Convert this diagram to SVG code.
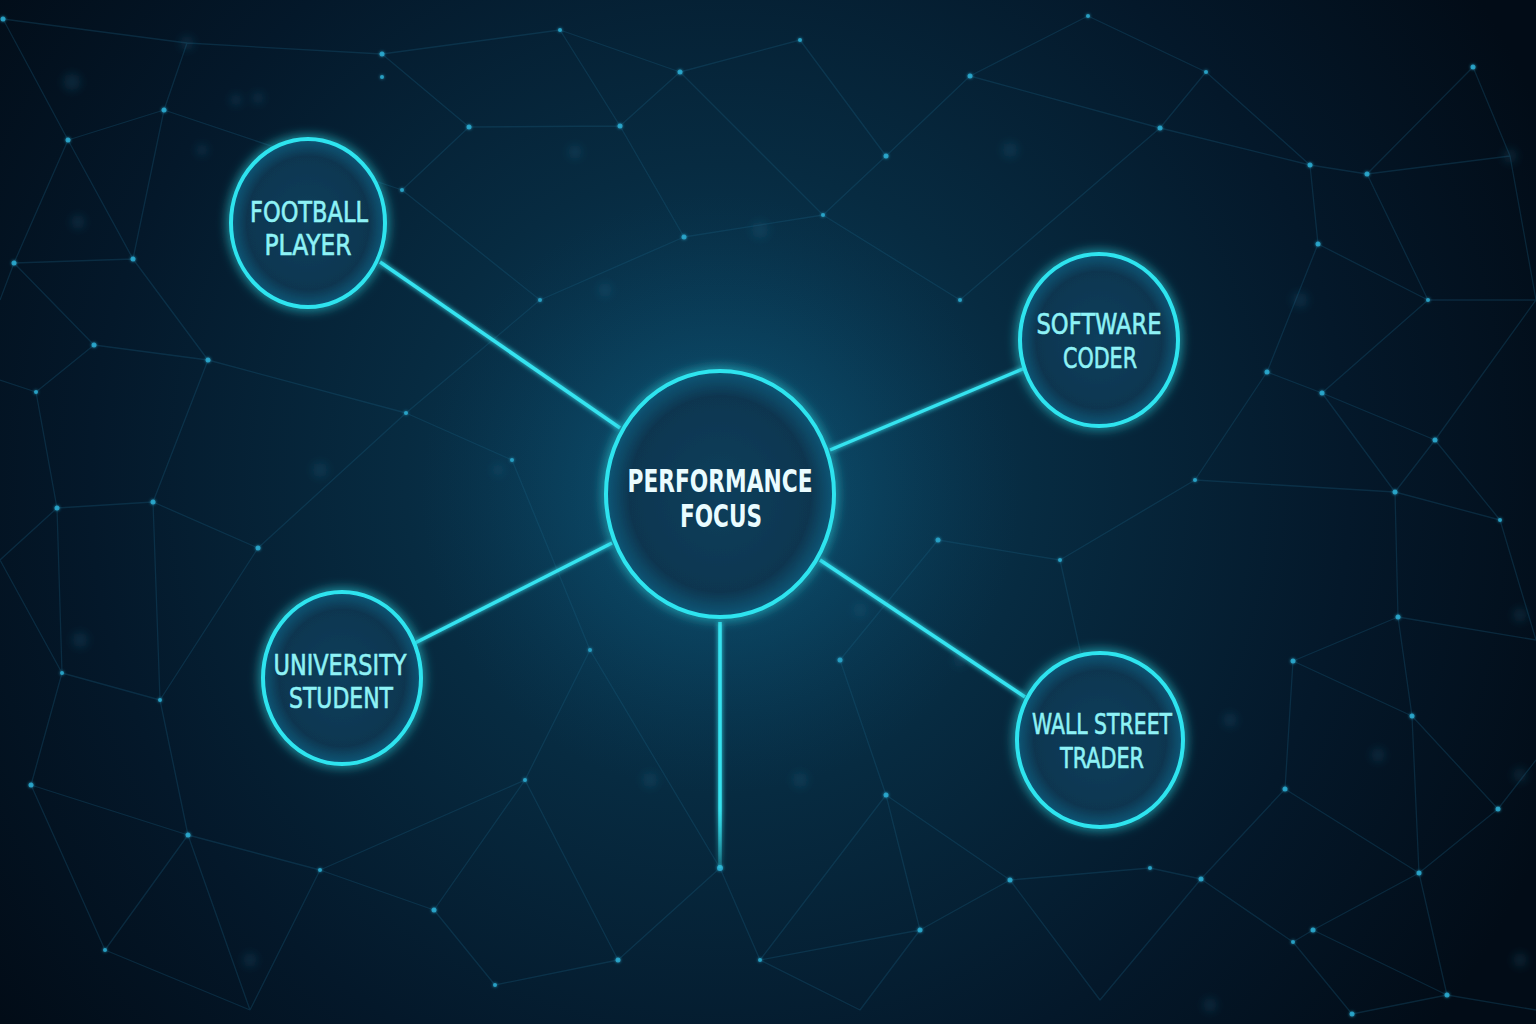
<svg xmlns="http://www.w3.org/2000/svg" width="1536" height="1024" viewBox="0 0 1536 1024">
<defs>
<radialGradient id="bg" cx="720" cy="480" r="900" gradientUnits="userSpaceOnUse">
<stop offset="0" stop-color="#0b4260"/>
<stop offset="0.35" stop-color="#072b41"/>
<stop offset="0.7" stop-color="#04182a"/>
<stop offset="1" stop-color="#020c17"/>
</radialGradient>
<radialGradient id="halo" cx="0.5" cy="0.5" r="0.5">
<stop offset="0" stop-color="#1a8fb8" stop-opacity="0.3"/>
<stop offset="0.6" stop-color="#0f6f95" stop-opacity="0.12"/>
<stop offset="1" stop-color="#0a5070" stop-opacity="0"/>
</radialGradient>
<radialGradient id="nodeFill" cx="0.5" cy="0.5" r="0.5">
<stop offset="0" stop-color="#0a3f5c"/>
<stop offset="0.8" stop-color="#093650"/>
<stop offset="1" stop-color="#0f5878"/>
</radialGradient>
<linearGradient id="fadeDown" x1="0" y1="622" x2="0" y2="870" gradientUnits="userSpaceOnUse">
<stop offset="0" stop-color="#35e3f0"/>
<stop offset="0.75" stop-color="#35e3f0"/>
<stop offset="1" stop-color="#35e3f0" stop-opacity="0.2"/>
</linearGradient>
<filter id="glow" x="-30%" y="-30%" width="160%" height="160%">
<feGaussianBlur in="SourceGraphic" stdDeviation="6" result="b"/>
<feMerge><feMergeNode in="b"/><feMergeNode in="SourceGraphic"/></feMerge>
</filter>
<filter id="softglow" x="-30%" y="-30%" width="160%" height="160%">
<feGaussianBlur in="SourceGraphic" stdDeviation="2.5" result="b"/>
<feMerge><feMergeNode in="b"/><feMergeNode in="SourceGraphic"/></feMerge>
</filter>
<filter id="blurBig"><feGaussianBlur stdDeviation="4"/></filter>
<filter id="dotglow" x="-200%" y="-200%" width="500%" height="500%">
<feGaussianBlur in="SourceGraphic" stdDeviation="1.5" result="b"/>
<feMerge><feMergeNode in="b"/><feMergeNode in="SourceGraphic"/></feMerge>
</filter>
</defs>
<style>
.mesh{fill:none;stroke:#1a5f80;stroke-width:1.3;stroke-opacity:0.3}
.dot{fill:#2fb6dc;fill-opacity:0.75}
.bokeh{fill:#1b6f92;fill-opacity:0.22}
.ring{fill:url(#nodeFill);stroke:#2fe4ef;stroke-width:4}
.conn{stroke:#35e3f0;stroke-width:3.5;fill:none}
.lbl{font-family:"DejaVu Sans Condensed","DejaVu Sans",sans-serif;font-stretch:condensed;font-size:29px;fill:#8ef2f6;stroke:#8ef2f6;stroke-width:0.6;text-anchor:middle}
.main{font-family:"DejaVu Sans Condensed","DejaVu Sans",sans-serif;font-stretch:condensed;font-size:32px;font-weight:bold;fill:#eafcff;text-anchor:middle}
</style>
<rect width="1536" height="1024" fill="url(#bg)"/>
<g id="background-mesh">
<path class="mesh" d="M3 19L68 140M3 19L187 43M187 43L164 110M164 110L68 140M68 140L133 259M164 110L133 259M68 140L14 263M14 263L133 259M187 43L382 54M164 110L402 190M382 54L469 127M469 127L402 190M469 127L620 126M382 54L560 30M560 30L620 126M560 30L680 72M680 72L620 126M620 126L684 237M680 72L800 40M800 40L886 156M680 72L823 215M684 237L823 215M823 215L886 156M886 156L970 76M970 76L1088 16M970 76L1160 128M1088 16L1206 72M1160 128L1206 72M1206 72L1310 165M1160 128L1310 165M1310 165L1367 174M1367 174L1473 67M1473 67L1510 156M1367 174L1510 156M1310 165L1318 244M1367 174L1428 300M1318 244L1428 300M1428 300L1536 300M1510 156L1536 300M1318 244L1267 372M1267 372L1322 393M1322 393L1428 300M1322 393L1435 440M1435 440L1536 300M1435 440L1395 492M1322 393L1395 492M1435 440L1500 520M1395 492L1500 520M1267 372L1195 480M1195 480L1395 492M1195 480L1060 560M1060 560L938 540M938 540L840 660M840 660L886 795M886 795L1010 880M1010 880L1150 868M1150 868L1201 879M1201 879L1293 942M1201 879L1285 789M1285 789L1293 661M1293 661L1398 617M1398 617L1412 716M1293 661L1412 716M1412 716L1498 809M1285 789L1419 873M1412 716L1419 873M1498 809L1419 873M1419 873L1313 930M1313 930L1293 942M1293 942L1352 1014M1313 930L1447 995M1419 873L1447 995M1398 617L1536 640M1500 520L1536 640M1395 492L1398 617M1201 879L1100 1000M1010 880L1100 1000M1010 880L920 930M920 930L860 1010M886 795L920 930M760 960L720 868M720 868L618 960M618 960L495 985M495 985L434 910M434 910L525 780M525 780L618 960M525 780L590 650M525 780L320 870M320 870L434 910M320 870L188 835M188 835L31 785M31 785L62 673M62 673L160 700M160 700L188 835M188 835L105 950M105 950L31 785M105 950L250 1010M250 1010L320 870M188 835L250 1010M62 673L0 560M0 560L57 508M57 508L153 502M153 502L258 548M153 502L160 700M57 508L62 673M258 548L160 700M36 392L57 508M36 392L94 345M94 345L208 360M94 345L14 263M208 360L133 259M208 360L153 502M208 360L406 413M406 413L512 460M406 413L258 548M512 460L590 650M402 190L540 300M540 300L406 413M540 300L684 237M960 300L823 215M960 300L1160 128M760 960L860 1010M920 930L760 960M1498 809L1536 760M1447 995L1536 1010M1352 1014L1447 995M0 380L36 392M14 263L0 300M1060 560L1100 740M886 795L760 960M590 650L720 868"/>
<g filter="url(#blurBig)">
<circle class="bokeh" cx="187" cy="43" r="7"/><circle class="bokeh" cx="72" cy="82" r="9"/><circle class="bokeh" cx="236" cy="100" r="6"/><circle class="bokeh" cx="202" cy="150" r="6"/><circle class="bokeh" cx="78" cy="222" r="7"/><circle class="bokeh" cx="258" cy="98" r="6"/><circle class="bokeh" cx="575" cy="152" r="7"/><circle class="bokeh" cx="498" cy="470" r="6"/><circle class="bokeh" cx="320" cy="470" r="8"/><circle class="bokeh" cx="80" cy="640" r="8"/><circle class="bokeh" cx="1510" cy="156" r="7"/><circle class="bokeh" cx="1230" cy="720" r="7"/><circle class="bokeh" cx="1378" cy="755" r="7"/><circle class="bokeh" cx="1520" cy="615" r="7"/><circle class="bokeh" cx="1520" cy="775" r="7"/><circle class="bokeh" cx="1520" cy="960" r="7"/><circle class="bokeh" cx="1210" cy="1005" r="7"/><circle class="bokeh" cx="760" cy="230" r="9"/><circle class="bokeh" cx="605" cy="290" r="7"/><circle class="bokeh" cx="860" cy="610" r="7"/><circle class="bokeh" cx="960" cy="660" r="7"/><circle class="bokeh" cx="800" cy="780" r="8"/><circle class="bokeh" cx="650" cy="780" r="8"/><circle class="bokeh" cx="250" cy="960" r="7"/><circle class="bokeh" cx="1300" cy="300" r="8"/><circle class="bokeh" cx="1010" cy="150" r="8"/>
</g>
<g filter="url(#dotglow)">
<circle class="dot" cx="3" cy="19" r="2.5"/><circle class="dot" cx="164" cy="110" r="2.5"/><circle class="dot" cx="68" cy="140" r="2.5"/><circle class="dot" cx="14" cy="263" r="2.5"/><circle class="dot" cx="133" cy="259" r="2.5"/><circle class="dot" cx="382" cy="54" r="2.5"/><circle class="dot" cx="382" cy="77" r="2"/><circle class="dot" cx="469" cy="127" r="2.5"/><circle class="dot" cx="402" cy="190" r="2"/><circle class="dot" cx="94" cy="345" r="2.5"/><circle class="dot" cx="208" cy="360" r="2.5"/><circle class="dot" cx="36" cy="392" r="2"/><circle class="dot" cx="153" cy="502" r="2.5"/><circle class="dot" cx="57" cy="508" r="2.5"/><circle class="dot" cx="258" cy="548" r="2.5"/><circle class="dot" cx="406" cy="413" r="2"/><circle class="dot" cx="512" cy="460" r="2"/><circle class="dot" cx="620" cy="126" r="2.5"/><circle class="dot" cx="684" cy="237" r="2.5"/><circle class="dot" cx="680" cy="72" r="2.5"/><circle class="dot" cx="886" cy="156" r="2.5"/><circle class="dot" cx="970" cy="76" r="2.5"/><circle class="dot" cx="823" cy="215" r="2"/><circle class="dot" cx="1088" cy="16" r="2"/><circle class="dot" cx="1160" cy="128" r="2.5"/><circle class="dot" cx="1206" cy="72" r="2"/><circle class="dot" cx="1310" cy="165" r="2.5"/><circle class="dot" cx="1367" cy="174" r="2.5"/><circle class="dot" cx="1473" cy="67" r="2.5"/><circle class="dot" cx="1318" cy="244" r="2.5"/><circle class="dot" cx="1428" cy="300" r="2"/><circle class="dot" cx="1267" cy="372" r="2.5"/><circle class="dot" cx="1322" cy="393" r="2.5"/><circle class="dot" cx="1435" cy="440" r="2.5"/><circle class="dot" cx="1395" cy="492" r="2.5"/><circle class="dot" cx="1500" cy="520" r="2"/><circle class="dot" cx="1195" cy="480" r="2"/><circle class="dot" cx="938" cy="540" r="2.5"/><circle class="dot" cx="1060" cy="560" r="2"/><circle class="dot" cx="840" cy="660" r="2.5"/><circle class="dot" cx="886" cy="795" r="2.5"/><circle class="dot" cx="1010" cy="880" r="2.5"/><circle class="dot" cx="1398" cy="617" r="2.5"/><circle class="dot" cx="1293" cy="661" r="2.5"/><circle class="dot" cx="1412" cy="716" r="2.5"/><circle class="dot" cx="1285" cy="789" r="2.5"/><circle class="dot" cx="1498" cy="809" r="2.5"/><circle class="dot" cx="1201" cy="879" r="2.5"/><circle class="dot" cx="1419" cy="873" r="2.5"/><circle class="dot" cx="1313" cy="930" r="2.5"/><circle class="dot" cx="1293" cy="942" r="2"/><circle class="dot" cx="1447" cy="995" r="2.5"/><circle class="dot" cx="1352" cy="1014" r="2.5"/><circle class="dot" cx="1150" cy="868" r="2"/><circle class="dot" cx="618" cy="960" r="2.5"/><circle class="dot" cx="525" cy="780" r="2"/><circle class="dot" cx="434" cy="910" r="2.5"/><circle class="dot" cx="495" cy="985" r="2"/><circle class="dot" cx="188" cy="835" r="2.5"/><circle class="dot" cx="31" cy="785" r="2.5"/><circle class="dot" cx="62" cy="673" r="2"/><circle class="dot" cx="105" cy="950" r="2"/><circle class="dot" cx="320" cy="870" r="2"/><circle class="dot" cx="160" cy="700" r="2"/><circle class="dot" cx="760" cy="960" r="2"/><circle class="dot" cx="920" cy="930" r="2.5"/><circle class="dot" cx="720" cy="868" r="3"/><circle class="dot" cx="590" cy="650" r="2"/><circle class="dot" cx="540" cy="300" r="2"/><circle class="dot" cx="960" cy="300" r="2"/><circle class="dot" cx="800" cy="40" r="2"/><circle class="dot" cx="560" cy="30" r="2"/>
</g>
</g>
<ellipse cx="720" cy="494" rx="300" ry="300" fill="url(#halo)"/>
<g id="connectors" filter="url(#softglow)">
<line class="conn" x1="380" y1="262" x2="620" y2="428"/>
<line class="conn" x1="1025" y1="368" x2="830" y2="450"/>
<line class="conn" x1="415" y1="643" x2="612" y2="543"/>
<line class="conn" x1="820" y1="560" x2="1025" y2="697"/>
<line x1="720" y1="622" x2="720" y2="868" stroke="url(#fadeDown)" stroke-width="3.5"/>
</g>
<g id="node-performance-focus">
<ellipse class="ring" cx="720" cy="494" rx="114" ry="123" filter="url(#glow)"/>
<text class="main" x="720" y="492" textLength="185" lengthAdjust="spacingAndGlyphs">PERFORMANCE</text>
<text class="main" x="721" y="527" textLength="82" lengthAdjust="spacingAndGlyphs">FOCUS</text>
</g>
<g id="node-football-player">
<ellipse class="ring" cx="308" cy="223" rx="77" ry="84" filter="url(#glow)"/>
<text class="lbl" x="309" y="222" textLength="118" lengthAdjust="spacingAndGlyphs">FOOTBALL</text>
<text class="lbl" x="308" y="255" textLength="87" lengthAdjust="spacingAndGlyphs">PLAYER</text>
</g>
<g id="node-software-coder">
<ellipse class="ring" cx="1099" cy="340" rx="79" ry="86" filter="url(#glow)"/>
<text class="lbl" x="1099" y="334" textLength="125" lengthAdjust="spacingAndGlyphs">SOFTWARE</text>
<text class="lbl" x="1100" y="368" textLength="74" lengthAdjust="spacingAndGlyphs">CODER</text>
</g>
<g id="node-university-student">
<ellipse class="ring" cx="342" cy="678" rx="79" ry="86" filter="url(#glow)"/>
<text class="lbl" x="340" y="675" textLength="133" lengthAdjust="spacingAndGlyphs">UNIVERSITY</text>
<text class="lbl" x="341" y="708" textLength="104" lengthAdjust="spacingAndGlyphs">STUDENT</text>
</g>
<g id="node-wall-street-trader">
<ellipse class="ring" cx="1100" cy="740" rx="83" ry="87" filter="url(#glow)"/>
<text class="lbl" x="1102" y="734" textLength="140" lengthAdjust="spacingAndGlyphs">WALL STREET</text>
<text class="lbl" x="1102" y="768" textLength="84" lengthAdjust="spacingAndGlyphs">TRADER</text>
</g>
</svg>
